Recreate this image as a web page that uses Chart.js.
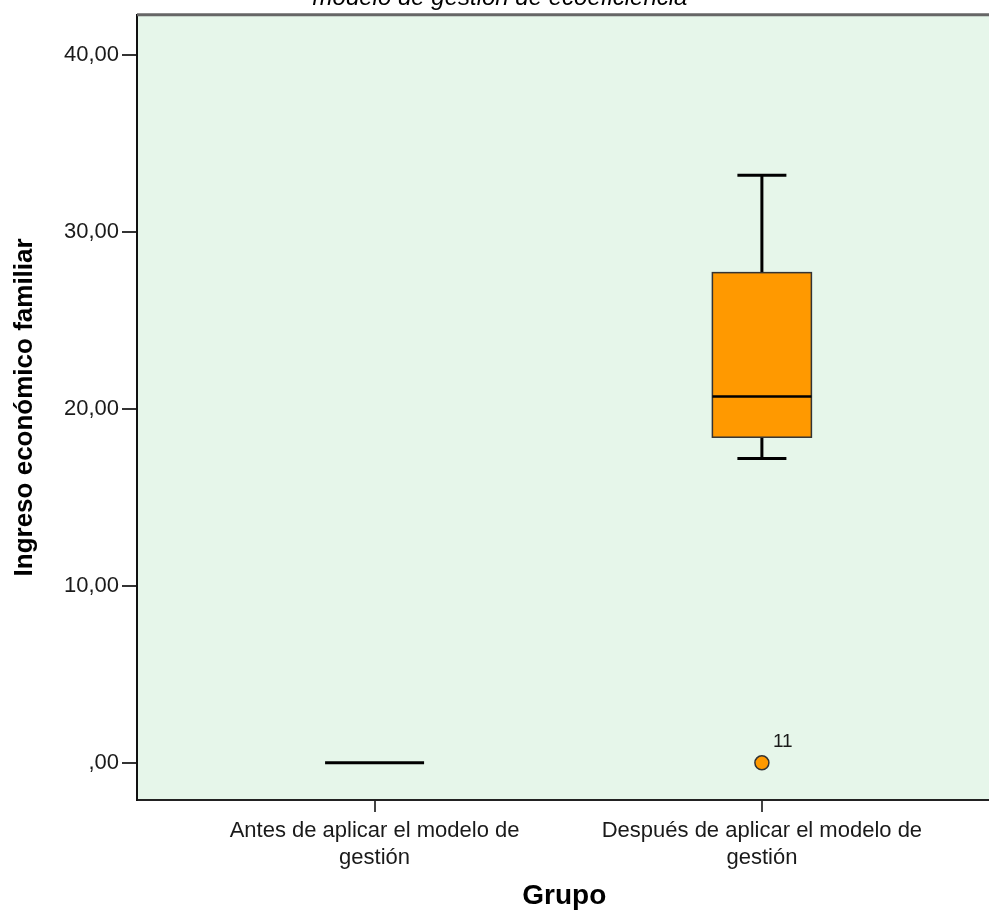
<!DOCTYPE html>
<html>
<head>
<meta charset="utf-8">
<script src="https://cdn.jsdelivr.net/npm/chart.js@4.4.0/dist/chart.umd.min.js"></script>
<style>
  html, body { margin: 0; padding: 0; background: #fff; overflow: hidden; }
  #wrap { position: absolute; left: 0; top: -16px; width: 1000px; height: 929px; }
</style>
</head>
<body>
<div id="wrap"><canvas id="myChart"></canvas></div>
<script>
// groups on the x axis (two-line labels)
const groups = [
    ['Antes de aplicar el modelo de', 'gestión'],
    ['Después de aplicar el modelo de', 'gestión']
]

// box plot summary per group
const boxMin = [0, 17.2]
const boxQ1 = [0, 18.4]
const boxMedian = [0, 20.7]
const boxQ3 = [0, 27.7]
const boxMax = [0, 33.2]

// outliers
const outlierGroup = [1]
const outlierValue = [0]
const outlierLabel = ['11']

const yTicks = [0, 10, 20, 30, 40]

Chart.defaults.font.family = "'Liberation Sans', Arial, sans-serif"
Chart.defaults.color = '#1a1a1a'

const boxPlot = {
    id: 'boxPlot',
    beforeDraw(chart) {
        const { ctx, chartArea: a } = chart
        ctx.save()
        ctx.fillStyle = '#e6f6ea'
        ctx.fillRect(a.left, a.top, a.right - a.left, a.bottom - a.top)
        ctx.restore()
    },
    beforeDatasetsDraw(chart) {
        const { ctx, scales: { x, y } } = chart
        const half = 49.5, cap = 24.5
        ctx.save()
        groups.forEach((g, i) => {
            const cx = x.getPixelForValue(i)
            const pMin = y.getPixelForValue(boxMin[i])
            const pQ1 = y.getPixelForValue(boxQ1[i])
            const pMed = y.getPixelForValue(boxMedian[i])
            const pQ3 = y.getPixelForValue(boxQ3[i])
            const pMax = y.getPixelForValue(boxMax[i])

            if (boxQ3[i] === boxQ1[i]) {
                // every value the same: box collapses to one line
                ctx.strokeStyle = '#000'
                ctx.lineWidth = 3
                ctx.beginPath()
                ctx.moveTo(cx - half, pMed)
                ctx.lineTo(cx + half, pMed)
                ctx.stroke()
                return
            }

            // whiskers
            ctx.strokeStyle = '#000'
            ctx.lineWidth = 3
            ctx.beginPath()
            ctx.moveTo(cx, pMax); ctx.lineTo(cx, pQ3)
            ctx.moveTo(cx, pQ1); ctx.lineTo(cx, pMin)
            ctx.moveTo(cx - cap, pMax); ctx.lineTo(cx + cap, pMax)
            ctx.moveTo(cx - cap, pMin); ctx.lineTo(cx + cap, pMin)
            ctx.stroke()

            // box
            ctx.fillStyle = '#ff9900'
            ctx.fillRect(cx - half, pQ3, half * 2, pQ1 - pQ3)
            ctx.strokeStyle = '#333'
            ctx.lineWidth = 1.5
            ctx.strokeRect(cx - half, pQ3, half * 2, pQ1 - pQ3)

            // median
            ctx.strokeStyle = '#000'
            ctx.lineWidth = 2.5
            ctx.beginPath()
            ctx.moveTo(cx - half, pMed)
            ctx.lineTo(cx + half, pMed)
            ctx.stroke()
        })
        ctx.restore()
    },
    afterDraw(chart) {
        const { ctx, chartArea: a, scales: { x, y } } = chart
        ctx.save()
        // top frame line
        ctx.strokeStyle = '#666'
        ctx.lineWidth = 3
        ctx.beginPath()
        ctx.moveTo(a.left, a.top)
        ctx.lineTo(a.right, a.top)
        ctx.stroke()

        // outlier case numbers
        ctx.fillStyle = '#1a1a1a'
        ctx.font = "19px 'Liberation Sans', Arial, sans-serif"
        ctx.textBaseline = 'middle'
        ctx.textAlign = 'left'
        outlierGroup.forEach((g, i) => {
            const px = x.getPixelForValue(g)
            const py = y.getPixelForValue(outlierValue[i])
            ctx.fillText(outlierLabel[i], px + 11, py - 21)
        })
        ctx.restore()
    }
}

const chart = {
    type: 'scatter',
    data: {
        datasets: [{
            label: 'atípicos',
            data: outlierGroup.map((g, i) => ({ x: g, y: outlierValue[i] })),
            backgroundColor: '#ff9900',
            borderColor: '#333',
            borderWidth: 1.5,
            pointRadius: 7
        }]
    },
    options: {
        responsive: true,
        maintainAspectRatio: false,
        animation: false,
        layout: { padding: 0 },
        plugins: {
            legend: { display: false },
            tooltip: { enabled: false },
            title: {
                display: true,
                text: 'modelo de gestión de ecoeficiencia',
                color: '#000',
                font: { size: 24, style: 'italic', weight: 'normal' },
                padding: { top: 0, bottom: 2 }
            }
        },
        scales: {
            x: {
                type: 'linear',
                min: -0.6134,
                max: 1.5928,
                afterBuildTicks: s => { s.ticks = groups.map((g, i) => ({ value: i })) },
                afterFit: s => { s.height = 113 },
                ticks: {
                    callback: v => groups[v],
                    font: { size: 22 },
                    padding: 6,
                    maxRotation: 0,
                    autoSkip: false
                },
                grid: {
                    drawOnChartArea: false,
                    tickLength: 12,
                    color: '#444',
                    lineWidth: 2
                },
                border: { color: '#222', width: 2 },
                title: {
                    display: true,
                    text: 'Grupo',
                    color: '#000',
                    font: { size: 28, weight: 'bold' },
                    padding: { top: 0, bottom: 0 }
                }
            },
            y: {
                min: -2.1,
                max: 42.27,
                afterBuildTicks: s => { s.ticks = yTicks.map(v => ({ value: v })) },
                afterFit: s => { s.width = 137 },
                ticks: {
                    callback: v => v === 0 ? ',00' : v.toFixed(2).replace('.', ','),
                    font: { size: 22 },
                    padding: 3
                },
                grid: {
                    drawOnChartArea: false,
                    tickLength: 15,
                    color: '#333',
                    lineWidth: 2
                },
                border: { color: '#111', width: 2 },
                title: {
                    display: true,
                    text: 'Ingreso económico familiar',
                    color: '#000',
                    font: { size: 26, weight: 'bold' },
                    padding: { top: 9, bottom: 0 }
                }
            }
        }
    },
    plugins: [boxPlot]
}

const ctx = document.getElementById('myChart').getContext('2d')
const myChart = new Chart(ctx, chart)
</script>
</body>
</html>
